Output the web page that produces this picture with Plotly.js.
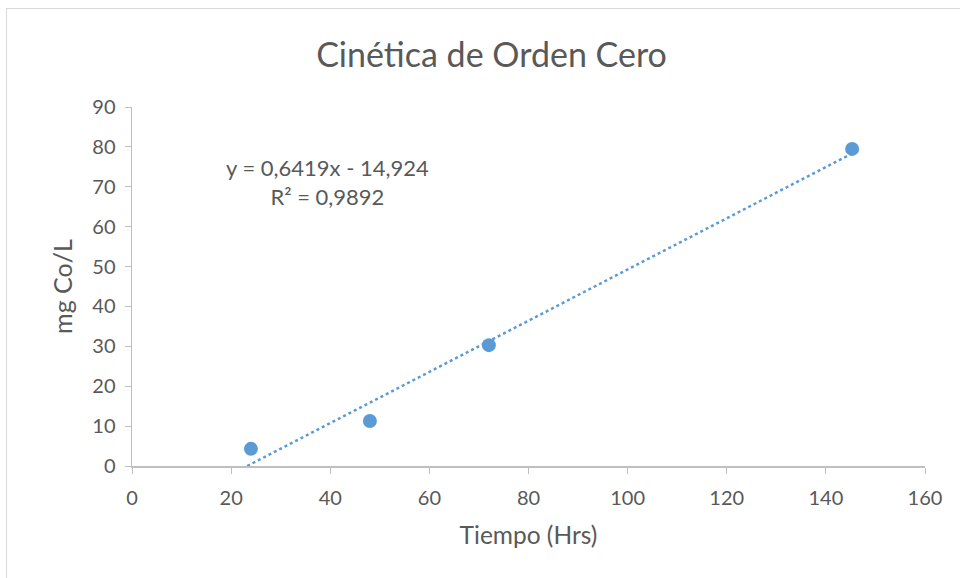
<!DOCTYPE html>
<html><head><meta charset="utf-8">
<script src="https://cdn.plot.ly/plotly-3.0.1.min.js"></script>
<style>
html,body{margin:0;padding:0;background:#fff;}
#frame{position:absolute;left:6px;top:8px;width:1000px;height:600px;border-left:1.5px solid #d9d9d9;border-top:1.5px solid #d9d9d9;}
#chart{position:absolute;left:0;top:0;width:960px;height:578px;}
</style></head>
<body>
<div id="frame"></div>
<div id="chart"></div>
<script>
const tiempo = [24, 48, 72, 145.3];
const mgCo = [4.3, 11.3, 30.3, 79.5];
const slope = 0.6419;
const intercept = -14.924;
const eqText = "y = 0,6419x - 14,924<br>R² = 0,9892";
const xTicks = [0, 20, 40, 60, 80, 100, 120, 140, 160];
const yTicks = [0, 10, 20, 30, 40, 50, 60, 70, 80, 90];

const xStart = -intercept / slope;
const xEnd = Math.max(...tiempo);
const trendX = [xStart, xEnd];
const trendY = trendX.map(x => slope * x + intercept);

const font = "Lato, 'Open Sans', sans-serif";
const grey = '#595959';
const blue = '#5b9bd5';

const data = [
  {x: trendX, y: trendY, mode: 'lines', type: 'scatter',
   line: {color: blue, width: 2.5, dash: 'dot'}, hoverinfo: 'skip', showlegend: false},
  {x: tiempo, y: mgCo, mode: 'markers', type: 'scatter',
   marker: {color: blue, size: 14}, showlegend: false}
];
const layout = {
  width: 960, height: 578,
  paper_bgcolor: 'rgba(0,0,0,0)', plot_bgcolor: 'rgba(0,0,0,0)',
  margin: {l: 132, r: 35, t: 107, b: 112},
  font: {family: font, color: grey, size: 16},
  title: {text: 'Cinética de Orden Cero', font: {family: font, size: 34, color: grey}, x: 0.512, xanchor: 'center', y: 0.905, yanchor: 'middle'},
  xaxis: {range: [0, 160], tickvals: xTicks, ticktext: xTicks.map(String), showgrid: false, zeroline: false,
    showline: true, linecolor: '#bfbfbf', linewidth: 1.5, ticks: 'outside', ticklen: 6, tickcolor: '#bfbfbf',
    tickfont: {size: 20, color: grey}, ticklabelstandoff: 7,
    title: {text: 'Tiempo (Hrs)', font: {size: 24.5, color: grey}, standoff: 19}},
  yaxis: {range: [0, 90], tickvals: yTicks, ticktext: yTicks.map(String), showgrid: false, zeroline: false,
    showline: true, linecolor: '#bfbfbf', linewidth: 1.5, ticks: 'outside', ticklen: 6, tickcolor: '#bfbfbf',
    tickfont: {size: 20, color: grey}, ticklabelstandoff: 5,
    title: {text: 'mg Co/L', font: {size: 25, color: grey}, standoff: 12}},
  annotations: [{text: eqText, xref: 'paper', yref: 'paper', x: 0.247, y: 0.791, xanchor: 'center', yanchor: 'middle',
    showarrow: false, align: 'center', font: {size: 22, color: grey}}]
};
Plotly.newPlot('chart', data, layout, {displayModeBar: false, staticPlot: true});
</script>
</body></html>
